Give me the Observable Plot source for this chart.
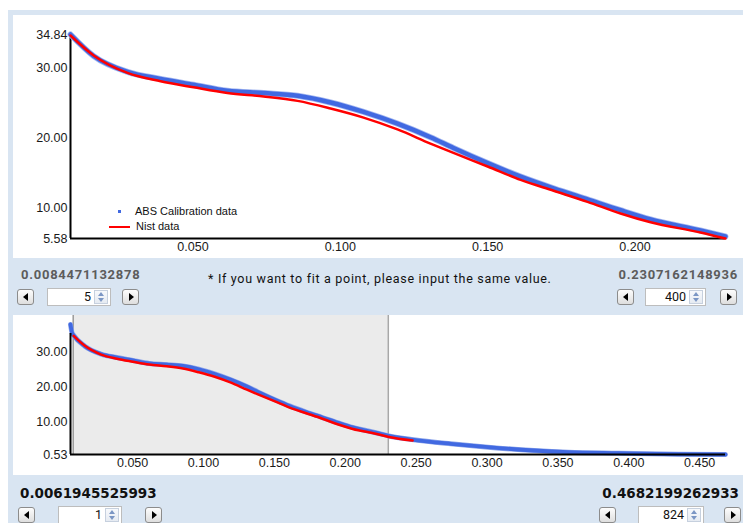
<!DOCTYPE html>
<html>
<head>
<meta charset="utf-8">
<script src="https://cdn.jsdelivr.net/npm/d3@7"></script>
<script src="https://cdn.jsdelivr.net/npm/@observablehq/plot@0.6"></script>
<style>
  html, body { margin: 0; padding: 0; background: #ffffff; }
  #app { position: relative; width: 743px; height: 523px; overflow: hidden; }
  #frame { position: absolute; left: 8px; top: 10px; right: 0; bottom: 0; background: #d9e5f2; }
  .panel { position: absolute; left: 13px; width: 730px; background: #ffffff; }
  .panel svg { display: block; overflow: visible; }
  .legend { position: absolute; font-family: "Liberation Sans", Arial, sans-serif; font-size: 11px; color: #111; white-space: nowrap; }
  .num-gray { position: absolute; font-family: Roboto, sans-serif; font-weight: 700; font-size: 13px; letter-spacing: 0.75px; color: #5c5c5c; line-height: 15px; white-space: nowrap; }
  .num-black { position: absolute; font-family: "DejaVu Sans", sans-serif; font-weight: 700; font-size: 13.5px; color: #111; line-height: 16px; white-space: nowrap; }
  .note { position: absolute; font-family: Roboto, sans-serif; font-size: 12.5px; letter-spacing: 0.7px; color: #111; line-height: 15px; white-space: nowrap; }
  .btn { position: absolute; width: 17px; height: 16px; box-sizing: border-box; border: 1px solid #8c8c8c; border-radius: 3px; background: linear-gradient(#fdfdfd, #dedede); }
  .btn::after { content: ""; position: absolute; top: 50%; left: 50%; width: 0; height: 0; border-style: solid; }
  .btn.l::after { border-width: 4px 5px 4px 0; border-color: transparent #000 transparent transparent; transform: translate(-60%, -50%); }
  .btn.r::after { border-width: 4px 0 4px 5px; border-color: transparent transparent transparent #000; transform: translate(-40%, -50%); }
  .spin { position: absolute; height: 18px; box-sizing: border-box; background: #fff; border: 1px solid #bdbdbd; }
  .spin .val { position: absolute; right: 19px; top: 0; line-height: 16px; font-family: Roboto, sans-serif; font-size: 12.5px; color: #111; }
  .spin .arr { position: absolute; right: 2px; top: 1px; width: 14px; height: 14px; box-sizing: border-box; border: 1px solid #c6d0de; background: linear-gradient(#f7f9fc, #e6ebf2); }
  .spin .arr::before, .spin .arr::after { content: ""; position: absolute; left: 3px; width: 0; height: 0; border-style: solid; }
  .spin .arr::before { top: 1px; border-width: 0 3.5px 4px 3.5px; border-color: transparent transparent #7b96c4 transparent; }
  .spin .arr::after { bottom: 1px; border-width: 4px 3.5px 0 3.5px; border-color: #7b96c4 transparent transparent transparent; }
</style>
</head>
<body>
<div id="app">
  <div id="frame"></div>
  <div class="panel" id="topPanel" style="top:15px;height:243px;"></div>
  <div class="panel" id="bottomPanel" style="top:315px;height:160px;"></div>
</div>
<script>
// Scattering curves: q on x, intensity on y.
const absQ = [0.0062, 0.0073, 0.00845, 0.0163, 0.0278, 0.0390, 0.0502, 0.0617, 0.0740, 0.0855, 0.0967, 0.1079, 0.1194, 0.1306, 0.1384, 0.1500, 0.1612, 0.1724, 0.1839, 0.1951, 0.2053, 0.2222, 0.2307, 0.2484, 0.2745, 0.3007, 0.3332, 0.3572, 0.3925, 0.4349, 0.4682];
const absI = [38.0, 35.6, 34.84, 31.75, 29.48, 28.47, 27.64, 26.77, 26.44, 26.05, 25.09, 23.73, 22.05, 20.11, 18.57, 16.40, 14.46, 12.78, 11.19, 9.64, 8.33, 6.74, 5.87, 4.77, 3.61, 2.63, 1.68, 1.20, 0.90, 0.60, 0.53];
const nistQ = [0.00845, 0.0163, 0.0278, 0.0390, 0.0502, 0.0617, 0.0740, 0.0855, 0.0967, 0.1079, 0.1194, 0.1306, 0.1384, 0.1500, 0.1612, 0.1724, 0.1839, 0.1951, 0.2053, 0.2222, 0.2307, 0.2475];
const nistI = [34.7, 31.84, 29.33, 28.13, 27.26, 26.44, 25.96, 25.32, 24.22, 22.92, 21.22, 19.20, 17.85, 15.91, 13.98, 12.43, 10.84, 9.16, 7.90, 6.45, 5.58, 4.56];

// Fit range (start / end index values) and full data range.
const fitStart = 0.0084471132878, fitEnd = 0.2307162148936;
const fullStart = 0.0061945525993, fullEnd = 0.4682199262933;
const fitStartIndex = 5, fitEndIndex = 400, fullStartIndex = 1, fullEndIndex = 824;

// Axis ticks.
const topYTicks = [5.58, 10, 20, 30, 34.84];
const topXTicks = [0.05, 0.10, 0.15, 0.20];
const bottomYTicks = [0.53, 10, 20, 30];
const bottomXTicks = [0.05, 0.10, 0.15, 0.20, 0.25, 0.30, 0.35, 0.40, 0.45];

const absData = absQ.map((q, i) => ({q, v: absI[i]}));
const nistData = nistQ.map((q, i) => ({q, v: nistI[i]}));
const inFit = d => d.q >= fitStart - 1e-6 && d.q <= fitEnd + 1e-6;

const BLUE = "#4169e1", RED = "#ff0000";
const axisStyle = {fontFamily: "'Liberation Sans', Arial, sans-serif", fontSize: "12.5px", color: "#1a1a1a", background: "transparent", overflow: "visible"};

// Zoomed view of the fit range.
const topPlot = Plot.plot({
  width: 730, height: 243,
  marginLeft: 57, marginRight: 18, marginTop: 19, marginBottom: 20,
  style: axisStyle,
  x: {domain: [fitStart, fitEnd], ticks: topXTicks, tickFormat: d3.format(".3f"), tickSize: 0, tickPadding: 4, label: null},
  y: {domain: [5.58, 34.84], ticks: topYTicks, tickFormat: d3.format(".2f"), tickSize: 0, tickPadding: 3, label: null},
  marks: [
    Plot.ruleX([fitStart], {stroke: "#000", strokeWidth: 2}),
    Plot.ruleY([5.58], {stroke: "#000", strokeWidth: 2}),
    Plot.line(absData.filter(inFit), {x: "q", y: "v", stroke: "#a8baf0", strokeWidth: 6, curve: "monotone-x"}),
    Plot.line(absData.filter(inFit), {x: "q", y: "v", stroke: BLUE, strokeWidth: 4.5, curve: "monotone-x"}),
    Plot.line(nistData.filter(inFit), {x: "q", y: "v", stroke: RED, strokeWidth: 2.5, curve: "monotone-x"})
  ]
});
document.getElementById("topPanel").appendChild(topPlot);

// Overview of the whole data range with the fit range shaded.
const bottomPlot = Plot.plot({
  width: 730, height: 160,
  marginLeft: 57, marginRight: 18, marginTop: 18, marginBottom: 21,
  style: axisStyle,
  x: {domain: [fullStart, fullEnd], ticks: bottomXTicks, tickFormat: d3.format(".3f"), tickSize: 0, tickPadding: 4, label: null},
  y: {domain: [0.53, 35.4], ticks: bottomYTicks, tickFormat: d3.format(".2f"), tickSize: 0, tickPadding: 3, label: null},
  marks: [
    Plot.line(absData, {x: "q", y: "v", stroke: "#8ea6ea", strokeWidth: 5, curve: "monotone-x"}),
    Plot.line(absData, {x: "q", y: "v", stroke: BLUE, strokeWidth: 3.8, curve: "monotone-x"}),
    Plot.line(nistData, {x: "q", y: "v", stroke: RED, strokeWidth: 2.5, curve: "monotone-x"}),
    Plot.ruleX([fullStart], {y1: 0.53, y2: 35.4, stroke: "#000", strokeWidth: 2}),
    Plot.ruleY([0.53], {stroke: "#000", strokeWidth: 2})
  ]
});
document.getElementById("bottomPanel").appendChild(bottomPlot);

// Shade the selected fit range behind the curves, using the plot's own scales.
{
  const sx = bottomPlot.scale("x"), sy = bottomPlot.scale("y");
  const x0 = sx.apply(fitStart), x1 = sx.apply(fitEnd), yb = sy.apply(0.53);
  const svg = d3.select(bottomPlot);
  const g = svg.insert("g", "g");
  g.append("rect").attr("x", x0).attr("y", 0).attr("width", x1 - x0).attr("height", yb).attr("fill", "#ebebeb");
  g.append("line").attr("x1", x0).attr("x2", x0).attr("y1", 0).attr("y2", yb).attr("stroke", "#9a9a9a").attr("stroke-width", 1.5);
  g.append("line").attr("x1", x1).attr("x2", x1).attr("y1", 0).attr("y2", yb).attr("stroke", "#a8a8a8").attr("stroke-width", 1.5);
}

// Legend inside the zoomed plot.
{
  const p = document.getElementById("topPanel");
  p.insertAdjacentHTML("beforeend",
    `<div style="position:absolute;left:105px;top:195px;width:3px;height:3px;background:${BLUE}"></div>` +
    `<div class="legend" style="left:122px;top:190px;">ABS Calibration data</div>` +
    `<div style="position:absolute;left:96px;top:210.5px;width:21px;height:2.5px;background:${RED}"></div>` +
    `<div class="legend" style="left:123px;top:205px;">Nist data</div>`);
}

// Range controls.
const fmt = v => String(v);
const app = document.getElementById("app");
function spinRow(y, leftVal, leftIdx, rightVal, rightIdx, lbl, pos) {
  app.insertAdjacentHTML("beforeend",
    `<div class="${lbl}" style="left:${pos.lx}px;top:${y.lbl}px;">${leftVal}</div>` +
    `<div class="${lbl}" style="right:${pos.rr}px;top:${y.lbl}px;">${rightVal}</div>` +
    `<div class="btn l" style="left:${pos.b1}px;top:${y.ctl}px;"></div>` +
    `<div class="spin" style="left:${pos.s1}px;top:${y.ctl - 1}px;width:${pos.s1w}px;"><span class="val">${fmt(leftIdx)}</span><span class="arr"></span></div>` +
    `<div class="btn r" style="left:${pos.b2}px;top:${y.ctl}px;"></div>` +
    `<div class="btn l" style="left:${pos.b3}px;top:${y.ctl}px;"></div>` +
    `<div class="spin" style="left:${pos.s2}px;top:${y.ctl - 1}px;width:${pos.s2w}px;"><span class="val">${fmt(rightIdx)}</span><span class="arr"></span></div>` +
    `<div class="btn r" style="left:${pos.b4}px;top:${y.ctl}px;"></div>`);
}
spinRow({lbl: 267, ctl: 289}, fitStart.toFixed(13), fitStartIndex, fitEnd.toFixed(13), fitEndIndex, "num-gray",
  {lx: 21, rr: 5, b1: 17, s1: 47, s1w: 64, b2: 122, b3: 617, s2: 645, s2w: 61, b4: 720});
spinRow({lbl: 485, ctl: 507}, fullStart.toFixed(13), fullStartIndex, fullEnd.toFixed(13), fullEndIndex, "num-black",
  {lx: 20, rr: 4, b1: 18, s1: 58, s1w: 64, b2: 145, b3: 599, s2: 638, s2w: 66, b4: 724});
app.insertAdjacentHTML("beforeend", `<div class="note" style="left:208px;top:271px;">* If you want to fit a point, please input the same value.</div>`);
</script>
</body>
</html>
